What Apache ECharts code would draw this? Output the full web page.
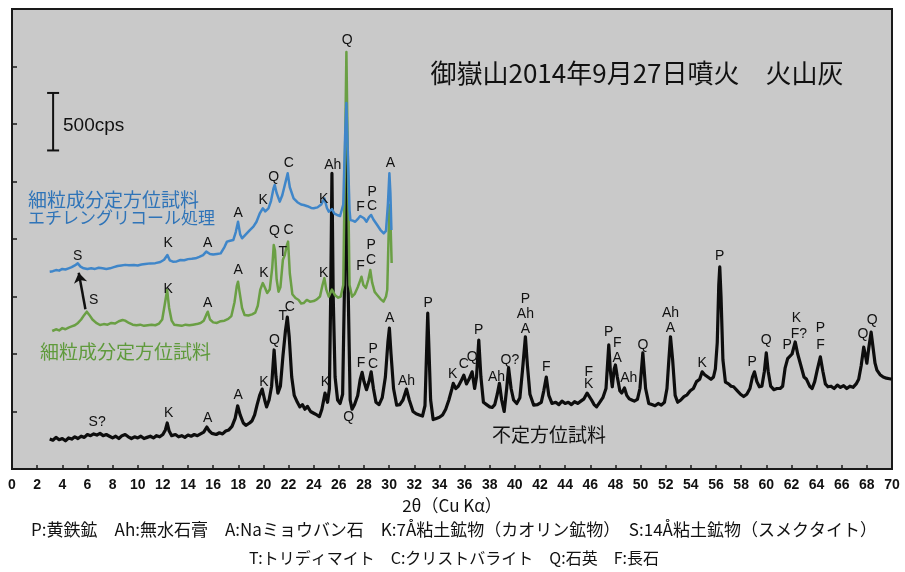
<!DOCTYPE html>
<html>
<head>
<meta charset="utf-8">
<script src="https://cdn.jsdelivr.net/npm/echarts@6/dist/echarts.min.js"></script>
<style>
  html, body { margin: 0; padding: 0; background: #ffffff; }
  #chart { width: 905px; height: 572px; }
</style>
</head>
<body>
<div id="chart"></div>
<script>
// X-ray diffraction patterns of the 2014-09-27 Ontake eruption ash (2θ in degrees, intensity in cps)

// Random-orientation (bulk) sample
const bulkPattern = [
  [3.0,260],[3.25,250],[3.5,275],[3.75,255],[4.0,265],[4.25,245],[4.5,270],[4.75,260],
  [5.0,280],[5.25,265],[5.5,285],[5.75,275],[6.0,300],[6.25,290],[6.5,305],[6.75,295],
  [7.0,310],[7.25,290],[7.5,300],[7.75,285],[8.0,270],[8.25,285],[8.5,265],[8.75,290],
  [9.0,300],[9.25,280],[9.5,265],[9.75,280],[10.0,270],[10.25,285],[10.5,265],[10.75,275],
  [11.0,285],[11.25,270],[11.5,290],[11.75,280],[12.0,300],[12.2,340],[12.35,400],[12.5,330],
  [12.7,290],[13.0,300],[13.25,280],[13.5,290],[13.75,275],[14.0,295],[14.25,285],[14.5,300],
  [14.75,290],[15.0,305],[15.25,320],[15.5,365],[15.7,330],[15.9,310],[16.25,300],[16.5,315],
  [16.75,305],[17.0,330],[17.25,340],[17.5,370],[17.75,440],[17.95,550],[18.15,470],[18.4,400],
  [18.6,380],[18.9,400],[19.1,420],[19.3,470],[19.5,560],[19.7,640],[19.9,695],[20.1,600],
  [20.25,540],[20.45,600],[20.65,720],[20.85,1035],[21.0,800],[21.15,660],[21.35,720],[21.55,980],
  [21.75,1200],[21.9,1320],[22.05,1150],[22.25,800],[22.45,640],[22.7,580],[22.9,540],[23.1,560],
  [23.3,520],[23.5,545],[23.75,500],[24.0,485],[24.25,470],[24.45,455],[24.65,520],[24.9,660],
  [25.1,580],[25.25,700],[25.35,1500],[25.45,2570],[25.55,1500],[25.7,800],[25.9,600],[26.1,570],
  [26.3,650],[26.45,1600],[26.6,2800],[26.75,1500],[26.9,600],[27.05,520],[27.25,560],[27.5,640],
  [27.7,780],[27.85,840],[28.0,760],[28.2,690],[28.4,760],[28.57,845],[28.75,700],[28.95,580],
  [29.2,560],[29.45,620],[29.7,800],[29.9,1100],[30.02,1225],[30.15,1000],[30.35,700],[30.6,555],
  [30.85,560],[31.1,600],[31.38,695],[31.6,600],[31.9,500],[32.15,480],[32.4,470],[32.65,460],
  [32.85,550],[33.0,1100],[33.07,1355],[33.15,1100],[33.3,600],[33.5,430],[33.75,440],[34.0,450],
  [34.25,470],[34.5,520],[34.75,600],[35.0,700],[35.1,745],[35.3,700],[35.5,720],[35.7,760],
  [35.94,815],[36.15,740],[36.35,780],[36.6,845],[36.8,700],[36.95,800],[37.13,1120],[37.3,800],
  [37.5,580],[37.75,560],[38.0,540],[38.2,535],[38.4,560],[38.6,650],[38.77,745],[38.95,600],
  [39.15,500],[39.35,700],[39.5,880],[39.7,700],[39.9,600],[40.15,570],[40.4,620],[40.6,850],
  [40.84,1150],[41.0,900],[41.2,650],[41.5,555],[41.8,560],[42.1,580],[42.3,680],[42.5,800],
  [42.7,640],[42.95,570],[43.25,580],[43.5,560],[43.75,590],[44.0,570],[44.25,580],[44.5,560],
  [44.75,585],[45.0,570],[45.25,590],[45.5,610],[45.75,660],[45.9,670],[46.1,600],[46.3,560],
  [46.5,540],[46.75,580],[47.0,620],[47.25,700],[47.47,1080],[47.6,850],[47.75,715],[47.9,870],
  [48.0,905],[48.15,800],[48.35,680],[48.5,660],[48.72,705],[48.9,640],[49.1,610],[49.3,600],
  [49.5,590],[49.75,605],[49.95,700],[50.18,1010],[50.4,700],[50.65,570],[50.9,560],[51.15,550],
  [51.4,570],[51.65,555],[51.9,580],[52.1,700],[52.25,950],[52.38,1150],[52.55,950],[52.75,640],
  [52.95,580],[53.2,600],[53.45,630],[53.7,645],[53.95,680],[54.2,700],[54.45,760],[54.7,780],
  [54.9,845],[55.1,820],[55.35,800],[55.6,780],[55.8,800],[55.95,870],[56.1,1100],[56.22,1600],
  [56.3,1757],[56.4,1500],[56.55,950],[56.75,755],[57.0,740],[57.2,720],[57.4,715],[57.7,680],
  [57.95,650],[58.2,630],[58.45,650],[58.7,700],[58.9,800],[59.06,845],[59.25,760],[59.45,715],
  [59.65,720],[59.85,850],[60.0,1010],[60.15,850],[60.35,720],[60.6,690],[60.85,700],[61.1,700],
  [61.3,720],[61.5,880],[61.7,960],[61.85,975],[62.05,1000],[62.3,1105],[62.5,1000],[62.75,900],
  [63.0,800],[63.2,780],[63.45,720],[63.65,700],[63.85,760],[64.05,860],[64.3,975],[64.5,850],
  [64.7,740],[64.9,715],[65.15,720],[65.4,700],[65.65,730],[65.9,710],[66.15,725],[66.4,700],
  [66.65,720],[66.9,710],[67.15,740],[67.35,780],[67.55,900],[67.75,1060],[67.9,980],[68.0,920],
  [68.15,1050],[68.34,1190],[68.5,1050],[68.65,920],[68.8,860],[69.05,820],[69.3,800],[69.55,790],
  [69.8,785],[70.0,780]
];

// Fine fraction, oriented mount
const orientedPattern = [
  [3.2,1200],[3.5,1215],[3.75,1205],[4.0,1225],[4.25,1215],[4.5,1230],[4.75,1240],[5.0,1250],
  [5.25,1270],[5.5,1300],[5.75,1340],[5.95,1368],[6.15,1340],[6.4,1300],[6.7,1270],[7.0,1252],
  [7.3,1260],[7.6,1255],[7.9,1270],[8.2,1265],[8.5,1285],[8.8,1296],[9.0,1290],[9.3,1270],
  [9.6,1255],[9.9,1250],[10.2,1255],[10.5,1245],[10.8,1250],[11.1,1255],[11.4,1250],[11.7,1265],
  [11.95,1300],[12.15,1430],[12.34,1557],[12.5,1400],[12.7,1290],[12.9,1255],[13.2,1250],[13.5,1245],
  [13.8,1255],[14.1,1250],[14.4,1255],[14.7,1260],[15.0,1270],[15.25,1290],[15.45,1340],[15.57,1368],
  [15.75,1300],[16.0,1275],[16.3,1270],[16.6,1285],[16.9,1290],[17.2,1305],[17.45,1330],[17.7,1450],
  [17.88,1590],[17.98,1629],[18.1,1540],[18.3,1400],[18.5,1339],[18.8,1335],[19.1,1345],[19.35,1360],
  [19.55,1420],[19.75,1560],[19.95,1617],[20.15,1570],[20.3,1530],[20.5,1560],[20.7,1750],[20.82,1948],
  [20.92,1900],[21.05,1650],[21.2,1542],[21.35,1580],[21.55,1820],[21.7,1860],[21.85,1940],[21.96,1977],
  [22.1,1700],[22.3,1520],[22.55,1487],[22.8,1470],[23.0,1440],[23.2,1443],[23.45,1470],[23.7,1455],
  [24.0,1460],[24.25,1475],[24.5,1500],[24.7,1600],[24.85,1660],[25.0,1560],[25.2,1500],[25.45,1560],
  [25.7,1510],[25.95,1490],[26.15,1500],[26.35,1600],[26.5,2800],[26.6,3626],[26.7,2800],[26.85,1600],
  [27.05,1498],[27.25,1520],[27.5,1580],[27.7,1640],[27.8,1672],[27.95,1600],[28.15,1574],[28.35,1650],
  [28.5,1730],[28.65,1620],[28.85,1540],[29.05,1513],[29.3,1480],[29.55,1455],[29.75,1500],[29.85,1560],
  [29.95,2000],[30.03,2296],[30.12,2100],[30.2,1791]
];

// Fine fraction, oriented mount after ethylene glycol treatment
const glycolPattern = [
  [3.0,1716],[3.25,1720],[3.5,1730],[3.75,1725],[4.0,1740],[4.25,1735],[4.5,1745],[4.75,1755],
  [5.0,1770],[5.23,1788],[5.45,1760],[5.7,1745],[6.0,1739],[6.3,1745],[6.6,1740],[6.9,1750],
  [7.2,1745],[7.5,1740],[7.8,1745],[8.1,1755],[8.4,1765],[8.7,1770],[9.0,1775],[9.3,1772],
  [9.7,1774],[10.0,1770],[10.3,1778],[10.6,1782],[11.0,1788],[11.4,1790],[11.8,1800],[12.1,1820],
  [12.36,1861],[12.55,1815],[12.8,1803],[13.1,1805],[13.4,1817],[13.7,1815],[14.0,1825],[14.3,1828],
  [14.6,1832],[14.9,1845],[15.2,1860],[15.45,1890],[15.57,1904],[15.75,1870],[16.0,1865],[16.3,1870],
  [16.6,1875],[16.9,1930],[17.1,1977],[17.35,1985],[17.6,1991],[17.8,2060],[17.98,2150],[18.15,2040],
  [18.3,2006],[18.6,2040],[18.9,2075],[19.2,2107],[19.45,2150],[19.7,2220],[19.95,2267],[20.15,2240],
  [20.4,2267],[20.6,2330],[20.8,2440],[20.9,2470],[21.05,2400],[21.3,2325],[21.5,2380],[21.7,2470],
  [21.93,2571],[22.1,2450],[22.4,2354],[22.7,2320],[23.0,2300],[23.2,2296],[23.5,2285],[23.8,2270],
  [24.0,2267],[24.3,2275],[24.6,2300],[24.85,2354],[25.05,2270],[25.2,2238],[25.45,2260],[25.65,2220],
  [25.86,2209],[26.1,2200],[26.35,2300],[26.5,2900],[26.6,3183],[26.7,2800],[26.85,2250],[26.92,2165],
  [27.1,2160],[27.3,2150],[27.55,2180],[27.7,2200],[27.85,2209],[28.0,2180],[28.2,2150],[28.4,2190],
  [28.57,2209],[28.75,2170],[29.05,2122],[29.3,2080],[29.57,2049],[29.75,2070],[29.9,2300],[30.02,2571],
  [30.1,2400],[30.18,2078]
];

// Mineral identification marks: [2θ, cps, mark]
const bulkTags = [
  [6.77,411,'S?'],[12.47,490,'K'],[15.57,441,'A'],[17.99,638,'A'],[20.03,759,'K'],
  [20.88,1122,'Q'],[21.54,1330,'T'],[22.1,1406,'C'],[24.93,759,'K'],[26.79,455,'Q'],
  [27.77,924,'F'],[28.73,1043,'P'],[28.73,910,'C'],[30.05,1310,'A'],[31.38,768,'Ah'],
  [33.1,1441,'P'],[35.06,826,'K'],[35.94,913,'C'],[36.6,971,'Q'],[37.13,1209,'P'],
  [38.54,803,'Ah'],[39.6,948,'Q?'],[40.84,1476,'P'],[40.84,1345,'Ah'],[40.84,1217,'A'],
  [42.49,890,'F'],[45.88,846,'F'],[45.88,739,'K'],[47.47,1194,'P'],[48.14,1093,'F'],
  [48.14,963,'A'],[49.06,789,'Ah'],[50.18,1078,'Q'],[52.38,1359,'Ah'],[52.38,1223,'A'],
  [54.9,919,'K'],[56.3,1852,'P'],[58.88,933,'P'],[59.99,1122,'Q'],[61.66,1078,'P'],
  [62.4,1310,'K'],[62.59,1174,'F?'],[64.31,1229,'P'],[64.31,1078,'F'],[67.68,1174,'Q'],
  [68.42,1296,'Q']
];
const orientedTags = [
  [6.5,1470,'S'],[12.42,1563,'K'],[15.57,1446,'A'],[17.99,1730,'A'],[20.03,1701,'K'],
  [20.88,2064,'Q'],[21.54,1890,'T'],[22.0,2078,'C'],[24.8,1707,'K'],[27.72,1765,'F'],
  [28.57,1948,'P'],[28.57,1817,'C']
];
const glycolTags = [
  [5.23,1852,'S'],[12.42,1963,'K'],[15.57,1968,'A'],[17.99,2223,'A'],[19.98,2339,'K'],
  [20.82,2542,'Q'],[22.01,2658,'C'],[24.8,2345,'K'],[25.51,2643,'Ah'],[26.66,3730,'Q'],
  [27.72,2281,'F'],[28.65,2411,'P'],[28.65,2287,'C'],[30.1,2658,'A']
];

// Smectite shift after glycolation (arrow from the oriented S peak to the glycolated S peak)
const smectiteShift = [[5.84, 1389], [5.31, 1707]];
// Intensity scale bar: [2θ position, lower cps, span in cps]
const scaleBar = [3.27, 2770, 500];

const xTickLabels = Array.from({length: 36}, (_, i) => String(i * 2));

const JP = '"Noto Sans CJK JP", "Noto Sans", sans-serif';
const LATIN = '"Liberation Sans", Arial, sans-serif';

function tagSeries(rows) {
  return {
    type: 'custom',
    coordinateSystem: 'cartesian2d',
    silent: true,
    z: 10,
    data: rows.map(r => [r[0], r[1]]),
    renderItem: (params, api) => {
      const p = api.coord([api.value(0), api.value(1)]);
      return {
        type: 'text',
        x: p[0], y: p[1],
        style: {
          text: rows[params.dataIndex][2],
          fill: '#111',
          font: '14px ' + LATIN,
          align: 'center', verticalAlign: 'middle',
          textAlign: 'center', textVerticalAlign: 'middle'
        }
      };
    }
  };
}

function label(x, y, text, font, fill, align) {
  return {
    type: 'text', x: x, y: y, z: 20,
    style: { text: text, fill: fill, font: font,
             align: align, verticalAlign: 'middle', textAlign: align, textVerticalAlign: 'middle' }
  };
}

const chart = echarts.init(document.getElementById('chart'), null, { renderer: 'canvas' });

chart.setOption({
  animation: false,
  backgroundColor: '#ffffff',
  grid: {
    left: 12, right: 13, top: 9, bottom: 103,
    show: true,
    backgroundColor: '#c9c9c9',
    borderColor: '#1a1a1a',
    borderWidth: 2
  },
  xAxis: {
    type: 'value', min: 0, max: 70, interval: 2,
    axisLine: { show: true, lineStyle: { color: '#1a1a1a', width: 2 } },
    axisTick: { show: true, inside: true, length: 4, lineStyle: { color: '#1a1a1a', width: 1.5 } },
    splitLine: { show: false },
    axisLabel: {
      margin: 9, color: '#111', fontSize: 14, fontWeight: 'bold', fontFamily: LATIN,
      formatter: v => xTickLabels[Math.round(v / 2)] ?? ''
    },
    name: '2θ（Cu Kα）',
    nameLocation: 'middle',
    nameGap: 26,
    nameTextStyle: { color: '#111', fontSize: 17, fontFamily: JP }
  },
  yAxis: {
    type: 'value', min: 0, max: 4000, interval: 500,
    axisLine: { show: true, lineStyle: { color: '#1a1a1a', width: 2 } },
    axisTick: { show: true, inside: true, length: 5, lineStyle: { color: '#1a1a1a', width: 1.5 } },
    splitLine: { show: false },
    axisLabel: { show: false }
  },
  graphic: [
    label(637, 73, '御嶽山2014年9月27日噴火　火山灰', '26px ' + JP, '#111', 'center'),
    label(63, 126, '500cps', '19px ' + LATIN, '#111', 'left'),
    label(28, 200, '細粒成分定方位試料', '19px ' + JP, '#2f74b8', 'left'),
    label(28, 218, 'エチレングリコール処理', '17px ' + JP, '#2f74b8', 'left'),
    label(40, 352, '細粒成分定方位試料', '19px ' + JP, '#5f9a3c', 'left'),
    label(549, 435, '不定方位試料', '19px ' + JP, '#111', 'center'),
    label(454, 530, 'P:黄鉄鉱　Ah:無水石膏　A:Naミョウバン石　K:7Å粘土鉱物（カオリン鉱物）　S:14Å粘土鉱物（スメクタイト）',
          '17px ' + JP, '#111', 'center'),
    label(454, 558, 'T:トリディマイト　C:クリストバライト　Q:石英　F:長石', '16px ' + JP, '#111', 'center')
  ],
  series: [
    {
      name: '不定方位試料', type: 'line', data: bulkPattern,
      showSymbol: false, symbol: 'none', z: 3,
      lineStyle: { color: '#0d0d0d', width: 3.2, join: 'round' }
    },
    {
      name: '細粒成分定方位試料', type: 'line', data: orientedPattern,
      showSymbol: false, symbol: 'none', z: 4,
      lineStyle: { color: '#6a9f44', width: 2.5, join: 'round' }
    },
    {
      name: 'エチレングリコール処理', type: 'line', data: glycolPattern,
      showSymbol: false, symbol: 'none', z: 5,
      lineStyle: { color: '#3f86c9', width: 2.5, join: 'round' }
    },
    {
      type: 'lines', coordinateSystem: 'cartesian2d', z: 8, silent: true,
      symbol: ['none', 'arrow'], symbolSize: 10,
      lineStyle: { color: '#111', width: 2.5, opacity: 1, curveness: 0 },
      data: [{ coords: smectiteShift }]
    },
    {
      type: 'custom', coordinateSystem: 'cartesian2d', z: 8, silent: true,
      data: [scaleBar],
      renderItem: (params, api) => {
        const lo = api.coord([api.value(0), api.value(1)]);
        const hi = api.coord([api.value(0), api.value(1) + api.value(2)]);
        const st = { stroke: '#111', lineWidth: 2 };
        return {
          type: 'group',
          children: [
            { type: 'line', shape: { x1: lo[0], y1: lo[1], x2: hi[0], y2: hi[1] }, style: st },
            { type: 'line', shape: { x1: lo[0] - 6, y1: lo[1], x2: lo[0] + 6, y2: lo[1] }, style: st },
            { type: 'line', shape: { x1: hi[0] - 6, y1: hi[1], x2: hi[0] + 6, y2: hi[1] }, style: st }
          ]
        };
      }
    },
    tagSeries(bulkTags),
    tagSeries(orientedTags),
    tagSeries(glycolTags)
  ]
});
</script>
</body>
</html>
